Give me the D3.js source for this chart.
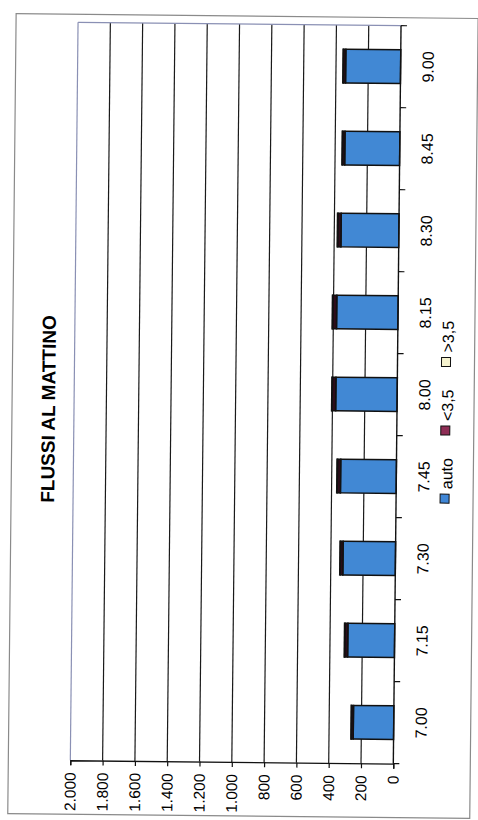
<!DOCTYPE html>
<html>
<head>
<meta charset="utf-8">
<script src="https://cdn.jsdelivr.net/npm/d3@7"></script>
<style>
  html, body { margin: 0; padding: 0; background: #ffffff; }
  svg { display: block; }
  text { font-family: "Liberation Sans", Arial, sans-serif; fill: #000; }
</style>
</head>
<body>
<script>
// ---- data ----
const categories = ["7.00", "7.15", "7.30", "7.45", "8.00", "8.15", "8.30", "8.45", "9.00"];
const auto  = [250, 290, 325, 345, 380, 380, 358, 340, 340];
const lt35  = [12, 18, 16, 20, 22, 24, 20, 14, 14];
const gt35  = [2, 3, 3, 3, 3, 3, 3, 3, 3];
const seriesNames = ["auto", "<3,5", ">3,5"];
const valueTicks = [0, 200, 400, 600, 800, 1000, 1200, 1400, 1600, 1800, 2000];
const title = "FLUSSI AL MATTINO";

// ---- layout ----
const W = 478, H = 820;
const plotTop = 24, plotBottom = 762, xZero = 397, xMax = 74;
const colors = { "auto": "#4188d4", "<3,5": "#2e0d1b", ">3,5": "#ffffcc" };
const legendColors = { "auto": "#3f86d6", "<3,5": "#8e2d55", ">3,5": "#f6f3cf" };

const svg = d3.select("body").append("svg").attr("width", W).attr("height", H);
const root = svg.append("g").attr("transform", "rotate(0.6,239,410)");

// outer frame
root.append("rect").attr("x", 12).attr("y", 16).attr("width", 462).attr("height", 800)
  .attr("fill", "none").attr("stroke", "#8a8a8a").attr("stroke-width", 1.2);

const x = d3.scaleLinear().domain([0, 2000]).range([xZero, xMax]);
const y = d3.scaleBand().domain(categories).range([plotBottom, plotTop])
  .paddingInner(0.59).paddingOuter(0.295);

// gridlines
root.append("g").selectAll("line").data(valueTicks.filter(v => v > 0 && v < 2000)).join("line")
  .attr("x1", d => x(d)).attr("x2", d => x(d))
  .attr("y1", plotTop).attr("y2", plotBottom)
  .attr("stroke", "#1a1a1a").attr("stroke-width", 1.2);

// plot border (top & far side)
root.append("line").attr("x1", x(2000)).attr("x2", x(0)).attr("y1", plotTop).attr("y2", plotTop)
  .attr("stroke", "#8a90b4").attr("stroke-width", 1.2);
root.append("line").attr("x1", x(2000)).attr("x2", x(2000)).attr("y1", plotTop).attr("y2", plotBottom)
  .attr("stroke", "#8a90b4").attr("stroke-width", 1.2);

// stacked bars
const table = categories.map((c, i) => ({ cat: c, "auto": auto[i], "<3,5": lt35[i], ">3,5": gt35[i] }));
const stack = d3.stack().keys(seriesNames)(table);
root.append("g").selectAll("g").data(stack).join("g")
  .attr("fill", d => colors[d.key])
  .selectAll("rect").data(d => d).join("rect")
  .attr("x", d => x(d[1]))
  .attr("width", d => x(d[0]) - x(d[1]))
  .attr("y", d => y(d.data.cat))
  .attr("height", y.bandwidth())
  .attr("stroke", "#111").attr("stroke-width", 1.5);

// value axis (bottom)
const xAxis = d3.axisBottom(x).tickValues(valueTicks).tickSize(5).tickFormat("");
const gx = root.append("g").attr("transform", `translate(0,${plotBottom})`).call(xAxis);
gx.select(".domain").attr("stroke", "#111").attr("stroke-width", 1.3);
gx.selectAll(".tick line").attr("stroke", "#111").attr("stroke-width", 1.2);

const fmt = v => d3.format(",")(v).replace(/,/g, ".");
root.append("g").selectAll("text").data(valueTicks).join("text")
  .attr("transform", d => `translate(${x(d) + 5.5},${plotBottom + 12}) rotate(-90)`)
  .attr("text-anchor", "end")
  .attr("font-size", 15.5)
  .text(d => fmt(d));

// category axis (at zero)
root.append("line").attr("x1", xZero).attr("x2", xZero).attr("y1", plotTop).attr("y2", plotBottom)
  .attr("stroke", "#111").attr("stroke-width", 1.4);
const step = y.step();
const bounds = d3.range(categories.length + 1).map(k => plotTop + k * step);
root.append("g").selectAll("line").data(bounds).join("line")
  .attr("x1", xZero).attr("x2", xZero + 6)
  .attr("y1", d => d).attr("y2", d => d)
  .attr("stroke", "#111").attr("stroke-width", 1.2);

root.append("g").selectAll("text").data(categories).join("text")
  .attr("transform", d => `translate(${xZero + 33},${y(d) + y.bandwidth() / 2}) rotate(-90)`)
  .attr("text-anchor", "middle")
  .attr("font-size", 16)
  .text(d => d);

// title
root.append("text")
  .attr("transform", "translate(55,411) rotate(-90)")
  .attr("text-anchor", "middle")
  .attr("font-size", 19).attr("font-weight", "bold")
  .text(title);

// legend
const leg = root.append("g").attr("transform", "translate(453,501) rotate(-90)");
let off = 0;
seriesNames.forEach(name => {
  const g = leg.append("g").attr("transform", `translate(${off},0)`);
  g.append("rect").attr("x", 0).attr("y", -12).attr("width", 9).attr("height", 9)
    .attr("fill", legendColors[name]).attr("stroke", "#111").attr("stroke-width", 1);
  const t = g.append("text").attr("x", 14).attr("y", 0).attr("font-size", 16).text(name);
  off += 14 + t.node().getComputedTextLength() + 23;
});
</script>
</body>
</html>
